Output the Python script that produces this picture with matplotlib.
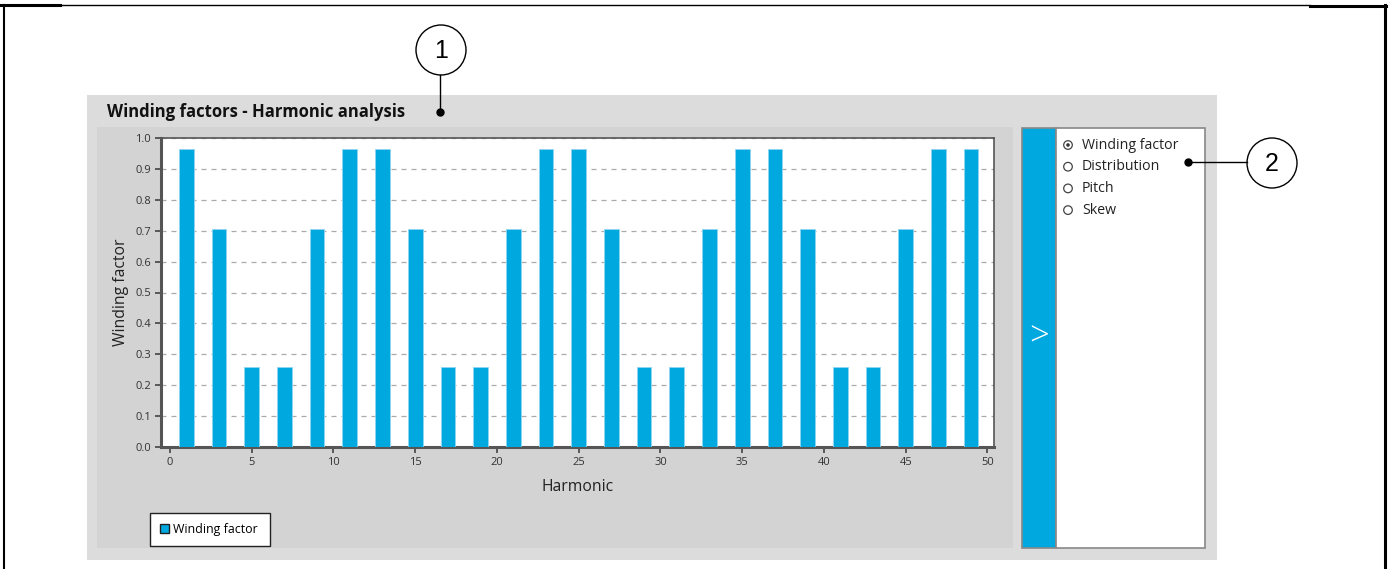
"""
Winding factors - Harmonic analysis (UI panel screenshot recreation)
Output: out.png
"""
import matplotlib
matplotlib.use("Agg")
import matplotlib.pyplot as plt
from matplotlib.patches import Rectangle, Circle, Patch

# Data
harmonics = [1, 3, 5, 7, 9, 11, 13, 15, 17, 19, 21, 23, 25,
             27, 29, 31, 33, 35, 37, 39, 41, 43, 45, 47, 49]
winding_factor = [0.966, 0.707, 0.259, 0.259, 0.707, 0.966, 0.966,
                  0.707, 0.259, 0.259, 0.707, 0.966, 0.966, 0.707,
                  0.259, 0.259, 0.707, 0.966, 0.966, 0.707, 0.259,
                  0.259, 0.707, 0.966, 0.966]
y_ticks = [0.0, 0.1, 0.2, 0.3, 0.4, 0.5, 0.6, 0.7, 0.8, 0.9, 1.0]
x_ticks = [0, 5, 10, 15, 20, 25, 30, 35, 40, 45, 50]
options = ["Winding factor", "Distribution", "Pitch", "Skew"]

W, H = 1390, 569
BLUE = "#00a8e0"
UI_FONT = ["Open Sans", "DejaVu Sans"]
CALLOUT_FONT = ["Liberation Sans", "DejaVu Sans"]

fig = plt.figure(figsize=(W / 100, H / 100), dpi=100)
fig.patch.set_facecolor("white")

# background canvas in pixel coordinates
bg = fig.add_axes([0, 0, 1, 1])
bg.set_xlim(0, W)
bg.set_ylim(H, 0)
bg.axis("off")

# document frame
bg.plot([4, 4], [5, H], color="black", lw=1.5)
bg.plot([1385, 1385], [5, H], color="black", lw=2.2)
bg.plot([0, 60], [5, 5], color="black", lw=2.2)
bg.plot([60, 1310], [4.5, 4.5], color="black", lw=1.0)
bg.plot([1310, 1386], [5.5, 5.5], color="black", lw=2.2)

# panels
bg.add_patch(Rectangle((87, 95), 1130, 465, facecolor="#dcdcdc", edgecolor="none"))
bg.add_patch(Rectangle((97, 127), 916, 421, facecolor="#d3d3d3", edgecolor="none"))
bg.text(107, 112, "Winding factors - Harmonic analysis", fontsize=12,
        fontweight="bold", family=UI_FONT, color="#111111", va="center", ha="left")

# right-hand option panel
bg.add_patch(Rectangle((1022, 128), 34, 420, facecolor=BLUE,
                       edgecolor="#888888", lw=1.2))
bg.add_patch(Rectangle((1056, 128), 149, 420, facecolor="white",
                       edgecolor="#888888", lw=1.2))
bg.text(1039, 337, ">", fontsize=25, color="white", family=UI_FONT,
        ha="center", va="center", fontweight="light")
for i, opt in enumerate(options):
    yy = 145 + i * 21.7
    bg.add_patch(Circle((1068, yy), 4.3, facecolor="white",
                        edgecolor="#444444", lw=0.9))
    if i == 0:
        bg.add_patch(Circle((1068, yy), 1.8, facecolor="#333333", edgecolor="none"))
    bg.text(1082, yy, opt, fontsize=10.2, family=UI_FONT, color="#222222",
            ha="left", va="center")

# callouts
for (cx, cy), (dx, dy), label in [((441, 50), (440, 112), "1"),
                                  ((1272, 163), (1188, 162), "2")]:
    bg.add_patch(Circle((cx, cy), 25, facecolor="white", edgecolor="black", lw=1.0))
    bg.text(cx, cy + 1, label, fontsize=18, family=CALLOUT_FONT,
            ha="center", va="center", color="black")
    if label == "1":
        bg.plot([dx, dx], [cy + 25, dy], color="black", lw=1.0)
    else:
        bg.plot([dx, cx - 25], [dy, dy], color="black", lw=1.0)
    bg.plot(dx, dy, "o", color="black", ms=5)

# chart axes
left, right, top, bottom = 161, 994, 138, 447
ax = fig.add_axes([left / W, 1 - bottom / H, (right - left) / W, (bottom - top) / H])
ax.set_facecolor("white")
ax.bar(harmonics, winding_factor, width=0.9, color=BLUE,
       edgecolor="#8fd6f2", linewidth=0.6, zorder=3)
ax.set_xlim(-0.55, 50.4)
ax.set_ylim(0, 1.0)
ax.set_xticks(x_ticks)
ax.set_yticks(y_ticks)
ax.set_yticklabels([f"{v:.1f}" for v in y_ticks])
ax.yaxis.grid(True, linestyle=(0, (4, 4)), color="#aaaaaa", lw=0.9, zorder=0)
ax.tick_params(axis="both", direction="out", length=4, width=1.2,
               colors="#444444", labelsize=8, labelcolor="#333333", pad=3)
for lab in ax.get_xticklabels() + ax.get_yticklabels():
    lab.set_family(UI_FONT)
for s in ["left", "bottom"]:
    ax.spines[s].set_color("#555555")
    ax.spines[s].set_linewidth(2.2)
for s in ["top", "right"]:
    ax.spines[s].set_color("#555555")
    ax.spines[s].set_linewidth(1.2)

ax.set_ylabel("Winding factor", fontsize=11.3, family=UI_FONT, color="#222222", labelpad=5)
ax.set_xlabel("Harmonic", fontsize=11.3, family=UI_FONT, color="#222222", labelpad=8)

leg = ax.legend(handles=[Patch(facecolor=BLUE, edgecolor="#222222", lw=1.0,
                               label="Winding factor")],
                loc="lower left", bbox_to_anchor=(150 / W, 1 - 546 / H, 120 / W, 36 / H),
                bbox_transform=fig.transFigure, mode="expand", fancybox=False,
                framealpha=1, edgecolor="#222222", prop={"family": UI_FONT, "size": 8.9},
                handlelength=0.7, handleheight=0.7, handletextpad=0.4,
                borderpad=0.8, borderaxespad=0)
leg.get_frame().set_linewidth(1.0)

fig.savefig("out.png", dpi=100)
print("Saved: out.png")
